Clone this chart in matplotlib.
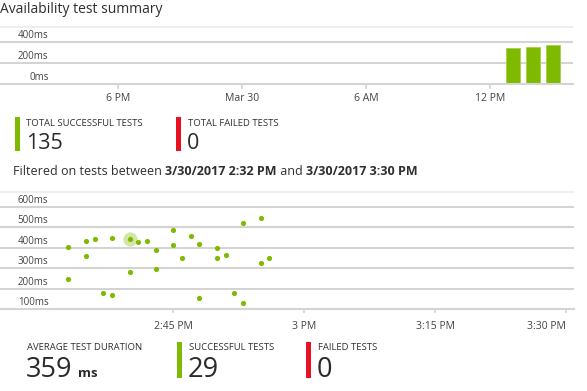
import matplotlib
matplotlib.use("Agg")
import matplotlib.pyplot as plt
from matplotlib import transforms
from matplotlib.patches import Rectangle
import numpy as np

plt.rcParams['font.family'] = ['Open Sans', 'DejaVu Sans']

# top chart: hourly average duration, x in hours since Mar 29 00:00
bar_hours = [37.1, 38.08, 39.04]
bar_ms = [340, 352, 368]
top_ticks = [18, 24, 30, 36]
top_ticklabels = ['6 PM', 'Mar 30', '6 AM', '12 PM']
top_yticks = [0, 200, 400]

# bottom chart: single test runs, x in minutes after 2 PM
test_min = [33, 33, 35, 35, 36, 37, 38, 38, 40, 40, 41, 42, 43, 43, 45,
            45, 46, 47, 48, 48, 50, 50, 51, 52, 53, 53, 55, 55, 56]
test_ms = [402, 247, 433, 360, 442, 177, 450, 169, 442, 280, 428, 435, 391, 296, 487,
           412, 352, 456, 419, 155, 400, 352, 366, 180, 520, 128, 548, 327, 352]
highlight = 8
bot_ticks = [45, 60, 75, 90]
bot_ticklabels = ['2:45 PM', '3 PM', '3:15 PM', '3:30 PM']
bot_yticks = [100, 200, 300, 400, 500, 600]

total_successful = 135
total_failed = 0
failed_tests = 0

GREEN = '#7fba00'
RED = '#e81123'
GRID = '#d4d4d4'
TXT = '#2f2f2f'

W, H = 587, 391
fig = plt.figure(figsize=(W / 100, H / 100), dpi=100)


def fx(x):
    return x / W


def fy(y):
    return 1 - y / H


def style_axes(ax, yticks, ylabel_x, tick_len, pad):
    for s in ['left', 'right']:
        ax.spines[s].set_visible(False)
    ax.spines['top'].set_color('#ebebeb')
    ax.spines['top'].set_linewidth(1.2)
    ax.spines['bottom'].set_color(GRID)
    ax.spines['bottom'].set_linewidth(1.5)
    ax.set_yticks([])
    for v in yticks[1:]:
        ax.axhline(v, color=GRID, lw=1.5, zorder=0)
    trans = transforms.offset_copy(ax.get_yaxis_transform(), fig=fig, x=0, y=6.5, units='dots')
    for v in yticks:
        ax.text(ylabel_x, v, f'{v}ms', transform=trans, ha='right', va='center',
                fontsize=7, color='#444444')
    ax.tick_params(axis='x', length=tick_len, width=1.2, color=GRID,
                   labelsize=7.5, labelcolor='#444444', pad=pad)
    ax.patch.set_alpha(0)


# title
fig.text(fx(0), fy(9.5), 'Availability test summary', fontsize=10, color=TXT,
         ha='left', va='center')

# top chart
ax1 = fig.add_axes([0, fy(84), 573 / W, 57 / H])
ax1.bar(bar_hours, bar_ms, width=0.69, color=GREEN, edgecolor='#a6d14a', linewidth=0.6, zorder=2)
ax1.set_xlim(12.27, 40.02)
ax1.set_ylim(0, 543)
ax1.set_xticks(top_ticks, top_ticklabels)
style_axes(ax1, top_yticks, 48.5 / 573, 3.6, 3.0)


# summary tiles
def tile(x, y_top, label, value, color, bar_h, num_size, label_dy, num_dy):
    if color is not None:
        fig.add_artist(Rectangle((fx(x), fy(y_top + bar_h)), 5 / W, bar_h / H,
                                 transform=fig.transFigure, color=color, lw=0))
        tx = x + 11.5
    else:
        tx = x
    fig.text(fx(tx), fy(y_top + label_dy), label, fontsize=6.8, color=TXT,
             ha='left', va='center')
    return fig.text(fx(tx - 0.5), fy(y_top + num_dy), str(value), fontsize=num_size,
                    color='#2b2b2b', ha='left', va='baseline')


tile(15, 116.7, 'TOTAL SUCCESSFUL TESTS', total_successful, GREEN, 34, 15.5, 7, 32.6)
tile(176, 116.7, 'TOTAL FAILED TESTS', total_failed, RED, 34, 15.5, 7, 32.6)

# filter line with bold dates
segs = [('Filtered on tests between ', 'normal'), ('3/30/2017 2:32 PM', 'bold'),
        (' and ', 'normal'), ('3/30/2017 3:30 PM', 'bold')]
fig.canvas.draw()
renderer = fig.canvas.get_renderer()
cur = 13.3
for s, w in segs:
    t = fig.text(fx(cur), fy(171.7), s, fontsize=9.0, fontweight=w, color=TXT,
                 ha='left', va='center')
    bb = t.get_window_extent(renderer)
    cur += bb.width

# bottom chart
ax2 = fig.add_axes([0, fy(309), 574 / W, 117.3 / H])
ax2.scatter([test_min[highlight]], [test_ms[highlight]], s=105, color=GREEN, alpha=0.35,
            lw=0, zorder=2)
ax2.scatter(test_min, test_ms, s=14, color=GREEN, lw=0, zorder=3)
ax2.set_xlim(25.16, 90.88)
ax2.set_ylim(100, 675)
ax2.set_xticks(bot_ticks, bot_ticklabels)
style_axes(ax2, bot_yticks, 48.5 / 574, 3.1, 5.3)
ax2.get_xticklabels()[-1].set_ha('right')
ax2.get_xticklabels()[-1].set_x(90.0)

# tiles for the filtered period
avg_ms = int(round(np.mean(test_ms)))
num = tile(26.7, 342.3, 'AVERAGE TEST DURATION', avg_ms, None, 36, 19.5, 5.7, 34.4)
bb = num.get_window_extent(renderer)
fig.text(fx(26.7 + bb.width + 5), fy(376.7), 'ms', fontsize=9.5, fontweight='bold',
         color='#2b2b2b', ha='left', va='baseline')
tile(177, 342.3, 'SUCCESSFUL TESTS', len(test_ms), GREEN, 36, 19.5, 5.7, 34.4)
tile(306, 342.3, 'FAILED TESTS', failed_tests, RED, 36, 19.5, 5.7, 34.4)

fig.savefig('out.png', dpi=100)
